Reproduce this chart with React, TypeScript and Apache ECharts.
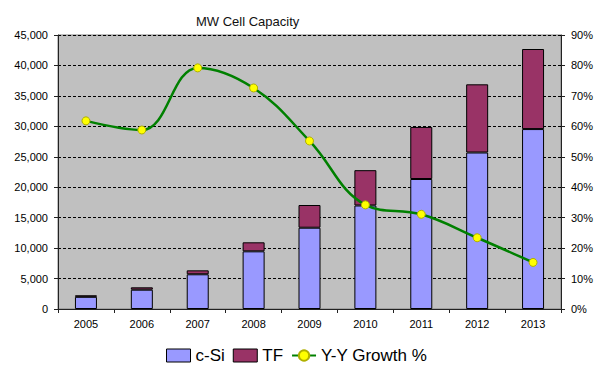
import React, { useEffect, useRef } from "react";
import * as echarts from "echarts";

const years = ["2005", "2006", "2007", "2008", "2009", "2010", "2011", "2012", "2013"];
const cSi = [2000, 3170, 5700, 9470, 13350, 17000, 21350, 25700, 29550];
const tf = [250, 390, 650, 1480, 3730, 5800, 8550, 11200, 13150];
const growth = [61.8, 58.8, 79.2, 72.6, 55.2, 34.2, 31.1, 23.4, 15.3];

const FONT = "'Liberation Sans', Arial, sans-serif";

export default function App() {
  const ref = useRef<HTMLDivElement>(null);
  useEffect(() => {
    if (!ref.current) return;
    const chart = echarts.init(ref.current, null, { renderer: "svg" });
    chart.setOption({
      animation: false,
      backgroundColor: "#ffffff",
      textStyle: { fontFamily: FONT },
      title: {
        text: "MW Cell Capacity",
        left: 191,
        top: 10,
        textStyle: { fontSize: 13, fontWeight: "normal", color: "#111", fontFamily: FONT },
      },
      legend: {
        left: 161,
        top: 342,
        itemWidth: 24,
        itemHeight: 13,
        itemGap: 8,
        textStyle: { fontSize: 17, color: "#000", fontFamily: FONT },
        data: [
          { name: "c-Si", icon: "rect", itemStyle: { color: "#9999ff", borderColor: "#000", borderWidth: 1 } },
          { name: "TF", icon: "rect", itemStyle: { color: "#993366", borderColor: "#000", borderWidth: 1 } },
          { name: "Y-Y Growth %" },
        ],
      },
      grid: {
        left: 58,
        right: 39,
        top: 35,
        bottom: 59,
        show: true,
        backgroundColor: "#c0c0c0",
        borderColor: "#808080",
        borderWidth: 1,
      },
      xAxis: {
        type: "category",
        data: years,
        boundaryGap: true,
        axisLine: { lineStyle: { color: "#222", width: 1 } },
        axisTick: { show: true, length: 4, lineStyle: { color: "#222" } },
        axisLabel: { color: "#000", fontSize: 11, margin: 9, fontFamily: FONT },
      },
      yAxis: [
        {
          type: "value",
          min: 0,
          max: 45000,
          interval: 5000,
          axisLine: { show: true, lineStyle: { color: "#222" } },
          axisTick: { show: true, length: 4, lineStyle: { color: "#222" } },
          axisLabel: {
            color: "#000",
            fontSize: 11,
            margin: 10,
            fontFamily: FONT,
            formatter: (v: number) => v.toLocaleString("en-US"),
          },
          splitLine: { show: true, lineStyle: { color: "#000", type: [3, 2], width: 1 } },
        },
        {
          type: "value",
          min: 0,
          max: 90,
          interval: 10,
          position: "right",
          axisLine: { show: true, lineStyle: { color: "#222" } },
          axisTick: { show: true, length: 4, lineStyle: { color: "#222" } },
          axisLabel: { color: "#000", fontSize: 11, margin: 10, fontFamily: FONT, formatter: "{value}%" },
          splitLine: { show: false },
        },
      ],
      series: [
        {
          name: "c-Si",
          type: "bar",
          stack: "cap",
          barWidth: 22,
          data: cSi,
          itemStyle: { color: "#9999ff", borderColor: "#000", borderWidth: 1 },
        },
        {
          name: "TF",
          type: "bar",
          stack: "cap",
          barWidth: 22,
          data: tf,
          itemStyle: { color: "#993366", borderColor: "#000", borderWidth: 1 },
        },
        {
          name: "Y-Y Growth %",
          type: "line",
          yAxisIndex: 1,
          data: growth,
          smooth: 0.4,
          symbol: "circle",
          symbolSize: 8,
          lineStyle: { color: "#008000", width: 2.5 },
          itemStyle: { color: "#ffff00", borderColor: "#b0b000", borderWidth: 1 },
          z: 5,
        },
      ],
    });
    return () => chart.dispose();
  }, []);
  return <div ref={ref} style={{ width: 600, height: 368, position: "absolute", left: 0, top: 0 }} />;
}
